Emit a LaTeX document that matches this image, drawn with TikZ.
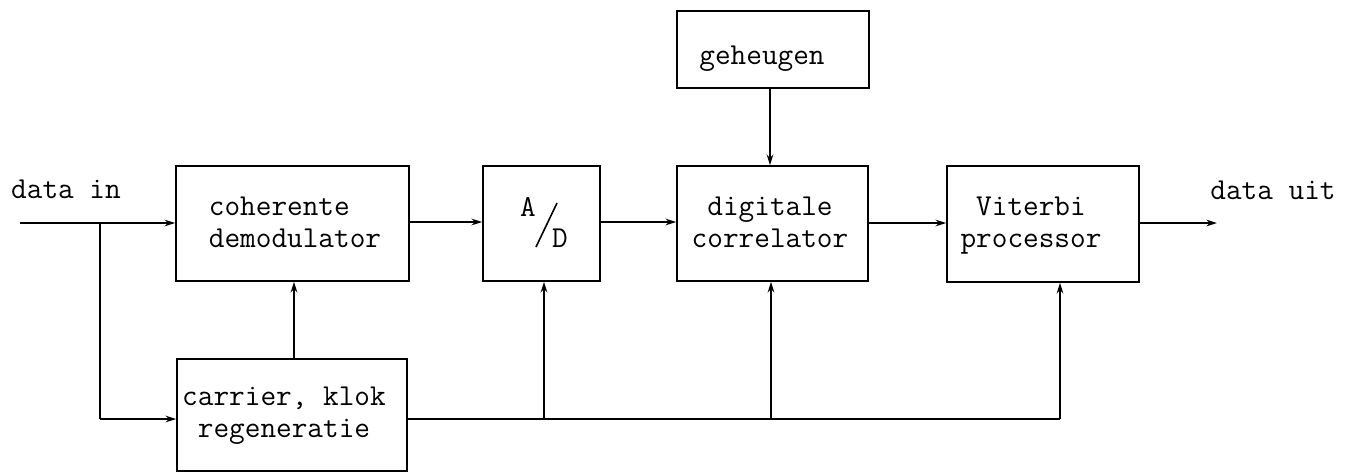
\documentclass[tikz,border=0pt]{standalone}
\usetikzlibrary{arrows.meta}
\begin{document}
\begin{tikzpicture}[x=0.75pt,y=-0.75pt,
  box/.style={draw, line width=1.3pt, inner sep=0pt},
  txt/.style={font=\ttfamily\fontsize{22.8}{24}\selectfont, inner sep=0pt},
  wire/.style={line width=1.2pt},
  arr/.style={wire, -{Stealth[length=8pt,width=5pt]}}]
\useasboundingbox (0,0) rectangle (1350,472);
% boxes
\node[box, minimum width=174.75pt, minimum height=86.25pt] (demod) at (292.5,223.5) {};
\node[box, minimum width=172.5pt, minimum height=84pt] (carrier) at (292,415) {};
\node[box, minimum width=87.75pt, minimum height=86.25pt] (ad) at (541.5,223.5) {};
\node[box, minimum width=143.25pt, minimum height=86.25pt] (corr) at (772.5,223.5) {};
\node[box, minimum width=144pt, minimum height=57.75pt] (mem) at (773,49.5) {};
\node[box, minimum width=144pt, minimum height=87pt] (vit) at (1043,224) {};
% texts
\node[txt, align=left] (tdemod) at (295,222) {coherente\\demodulator};
\node[txt, align=center] (tcarrier) at (284,416) {carrier, klok\\regeneratie};
\node[txt, align=center] (tcorr) at (770,222) {digitale\\correlator};
\node[txt] (tmem) at (762,59) {geheugen};
\node[txt, align=center] (tvit) at (1031,226) {Viterbi\\processor};
\node[txt] (tin) at (66,189) {data in};
\node[txt] (tout) at (1273,190) {data uit};
\node[txt] (tA) at (528,207) {A};
\node[txt] (tD) at (560,238) {D};
\draw[wire] (536,247) -- (557,203);
% connectors
\coordinate (start) at (20,223);
\coordinate (split) at (100,223);
\coordinate (bend) at (100,419);
\coordinate (outend) at (1217,223);
\draw[arr] (start) -- (demod.west |- start);
\draw[wire] (split) -- (bend);
\draw[arr] (bend) -- (carrier.west |- bend);
\draw[arr] (carrier.north -| 294,0) -- (demod.south -| 294,0);
\draw[arr] (demod.east |- 0,222) -- (ad.west |- 0,222);
\draw[arr] (ad.east |- 0,222) -- (corr.west |- 0,222);
\draw[arr] (corr.east |- 0,223) -- (vit.west |- 0,223);
\draw[arr] (vit.east |- outend) -- (outend);
\draw[arr] (mem.south -| 770,0) -- (corr.north -| 770,0);
\coordinate (b1) at (544,419);
\coordinate (b2) at (771,419);
\coordinate (b3) at (1060,419);
\draw[wire] (carrier.east |- b1) -- (b3);
\draw[arr] (b1) -- (ad.south -| b1);
\draw[arr] (b2) -- (corr.south -| b2);
\draw[arr] (b3) -- (vit.south -| b3);
\end{tikzpicture}
\end{document}
